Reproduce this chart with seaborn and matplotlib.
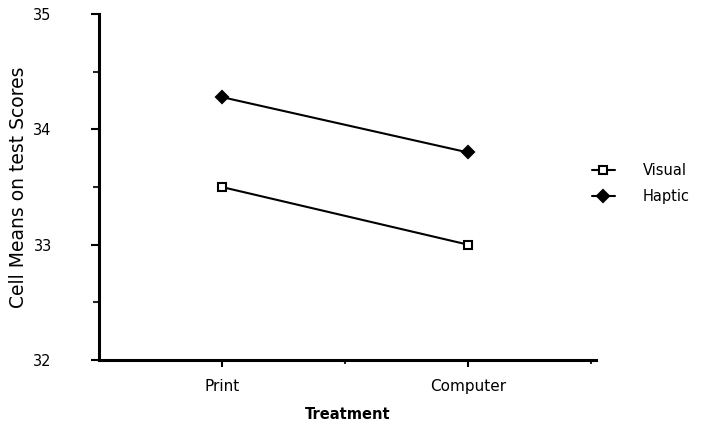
import matplotlib
matplotlib.use("Agg")
import matplotlib.pyplot as plt
from matplotlib.lines import Line2D
from matplotlib.ticker import MultipleLocator, FixedLocator
import seaborn as sns
import pandas as pd

treatments = ["Print", "Computer"]
visual = [33.5, 33.0]
haptic = [34.28, 33.8]
groups = ["Visual", "Haptic"]

df = pd.DataFrame({
    "Treatment": treatments * 2,
    "Score": visual + haptic,
    "Group": [groups[0]] * 2 + [groups[1]] * 2,
})

sns.set_theme(style="ticks")
plt.rcParams["font.family"] = ["DejaVu Sans"]
plt.rcParams["text.color"] = "black"
plt.rcParams["axes.labelcolor"] = "black"

fig = plt.figure(figsize=(7.02, 4.28), dpi=100)
ax = fig.add_axes([0.141, 0.159, 0.708, 0.808])

sns.pointplot(data=df, x="Treatment", y="Score", hue="Group", order=treatments,
              hue_order=groups, palette=["black", "black"], markers=["s", "D"],
              linestyles=["-", "-"], ax=ax, legend=False,
              markersize=6, linewidth=1.5, errorbar=None)

for ln in ax.lines:
    ln.set_markeredgewidth(1.5)
ax.lines[0].set_markerfacecolor("white")
ax.lines[1].set_markerfacecolor("black")

ax.set_xlim(-0.5, 1.52)
ax.set_ylim(32, 35)
ax.yaxis.set_major_locator(MultipleLocator(1))
ax.yaxis.set_minor_locator(MultipleLocator(0.5))
ax.xaxis.set_minor_locator(FixedLocator([0.5, 1.5]))

for s in ["top", "right"]:
    ax.spines[s].set_visible(False)
for s in ["left", "bottom"]:
    ax.spines[s].set_linewidth(2.2)
    ax.spines[s].set_color("black")

ax.tick_params(axis="y", which="major", length=6, width=1.5, pad=28, labelsize=10.5, colors="black")
ax.tick_params(axis="y", which="minor", length=4, width=1.5)
ax.tick_params(axis="x", which="major", length=5, width=1.5, pad=9, labelsize=11, colors="black")
ax.tick_params(axis="x", which="minor", length=3, width=1.5)

ax.set_ylabel("Cell Means on test Scores", fontsize=13.5, labelpad=4)
ax.set_xlabel("Treatment", fontsize=10.5, fontweight="bold", labelpad=9)

handles = [
    Line2D([], [], color="black", marker="s", markerfacecolor="white", markersize=6,
           markeredgewidth=1.5, linewidth=1.5),
    Line2D([], [], color="black", marker="D", markerfacecolor="black", markersize=6,
           markeredgewidth=1.5, linewidth=1.5),
]
ax.legend(handles, groups, loc="center left", bbox_to_anchor=(0.965, 0.51), frameon=False,
          fontsize=10.5, handlelength=1.6, handletextpad=1.9, labelspacing=0.8)

fig.savefig("out.png", dpi=100)
